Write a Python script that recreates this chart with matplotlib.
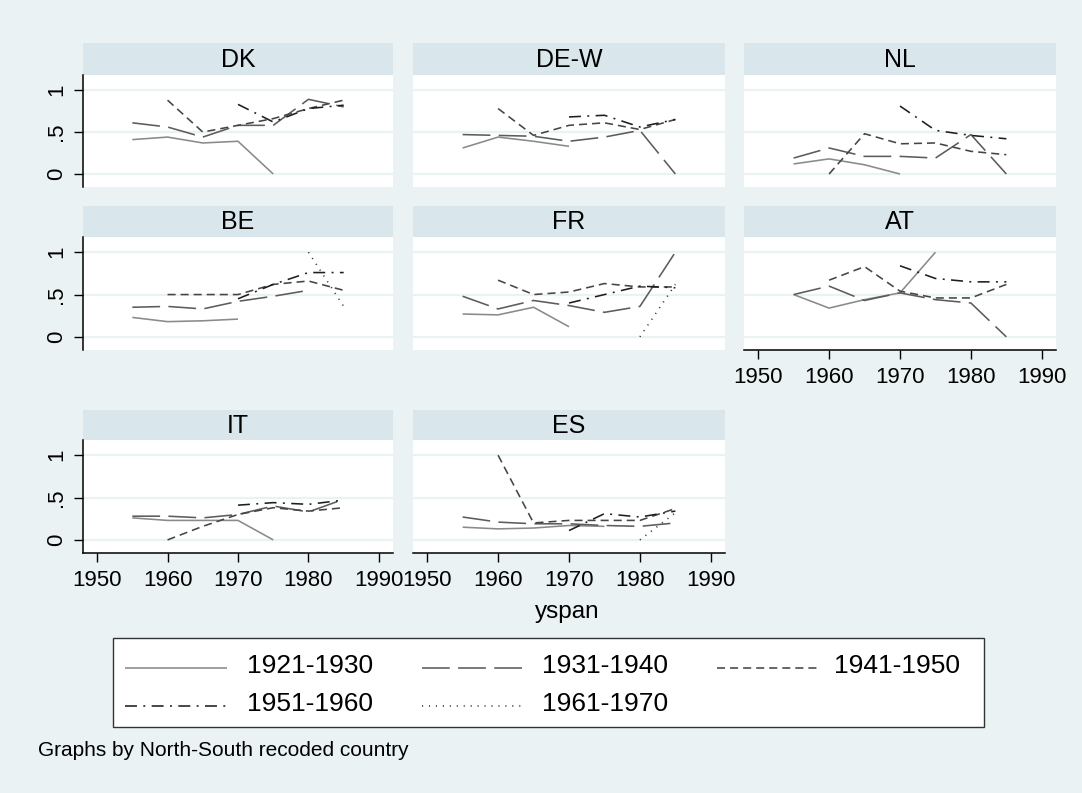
import numpy as np
import matplotlib
matplotlib.use("Agg")
import matplotlib.pyplot as plt
from matplotlib.patches import Rectangle

plt.rcParams['font.family'] = ['Liberation Sans', 'DejaVu Sans']
plt.rcParams['lines.scale_dashes'] = False

nan = np.nan
years = [1955, 1960, 1965, 1970, 1975, 1980, 1985]
countries = ['DK', 'DE-W', 'NL', 'BE', 'FR', 'AT', 'IT', 'ES']
cohorts = ['1921-1930', '1931-1940', '1941-1950', '1951-1960', '1961-1970']

c1921_1930 = {
    'DK':   [0.41, 0.44, 0.37, 0.39, 0.00, nan, nan],
    'DE-W': [0.31, 0.44, 0.39, 0.33, nan, nan, nan],
    'NL':   [0.12, 0.18, 0.11, 0.00, nan, nan, nan],
    'BE':   [0.23, 0.18, 0.19, 0.21, nan, nan, nan],
    'FR':   [0.27, 0.26, 0.35, 0.12, nan, nan, nan],
    'AT':   [0.50, 0.34, 0.44, 0.52, 1.00, nan, nan],
    'IT':   [0.26, 0.23, 0.23, 0.23, 0.00, nan, nan],
    'ES':   [0.15, 0.13, 0.14, 0.17, 0.16, nan, nan],
}
c1931_1940 = {
    'DK':   [0.61, 0.56, 0.44, 0.58, 0.58, 0.89, 0.80],
    'DE-W': [0.47, 0.46, 0.45, 0.39, 0.44, 0.52, 0.00],
    'NL':   [0.19, 0.31, 0.21, 0.21, 0.19, 0.47, 0.00],
    'BE':   [0.35, 0.36, 0.33, 0.42, 0.48, 0.55, nan],
    'FR':   [0.48, 0.33, 0.43, 0.37, 0.29, 0.36, 1.00],
    'AT':   [0.50, 0.60, 0.43, 0.52, 0.44, 0.40, 0.00],
    'IT':   [0.28, 0.28, 0.26, 0.30, 0.40, 0.33, 0.48],
    'ES':   [0.27, 0.21, 0.19, 0.19, 0.17, 0.16, 0.20],
}
c1941_1950 = {
    'DK':   [nan, 0.88, 0.50, 0.58, 0.66, 0.78, 0.88],
    'DE-W': [nan, 0.78, 0.46, 0.58, 0.61, 0.53, 0.65],
    'NL':   [nan, 0.00, 0.48, 0.36, 0.37, 0.27, 0.23],
    'BE':   [nan, 0.50, 0.50, 0.50, 0.62, 0.66, 0.55],
    'FR':   [nan, 0.67, 0.50, 0.53, 0.63, 0.59, 0.59],
    'AT':   [nan, 0.67, 0.83, 0.54, 0.46, 0.46, 0.62],
    'IT':   [nan, 0.00, 0.16, 0.30, 0.38, 0.34, 0.38],
    'ES':   [nan, 1.00, 0.20, 0.23, 0.23, 0.23, 0.37],
}
c1951_1960 = {
    'DK':   [nan, nan, nan, 0.83, 0.62, 0.78, 0.82],
    'DE-W': [nan, nan, nan, 0.68, 0.70, 0.56, 0.65],
    'NL':   [nan, nan, nan, 0.81, 0.52, 0.46, 0.42],
    'BE':   [nan, nan, nan, 0.45, 0.62, 0.76, 0.76],
    'FR':   [nan, nan, nan, 0.40, 0.50, 0.60, 0.58],
    'AT':   [nan, nan, nan, 0.84, 0.69, 0.65, 0.65],
    'IT':   [nan, nan, nan, 0.41, 0.44, 0.42, 0.47],
    'ES':   [nan, nan, nan, 0.11, 0.31, 0.27, 0.34],
}
c1961_1970 = {
    'BE':   [nan, nan, nan, nan, nan, 1.00, 0.36],
    'FR':   [nan, nan, nan, nan, nan, 0.00, 0.62],
    'ES':   [nan, nan, nan, nan, nan, 0.00, 0.32],
}
cohort_data = [c1921_1930, c1931_1940, c1941_1950, c1951_1960, c1961_1970]

xticks = [1950, 1960, 1970, 1980, 1990]
yticks = [0, 0.5, 1]
ytick_labels = ['0', '.5', '1']

styles = [
    dict(color='#8a8a8a', linestyle='-'),
    dict(color='#5c5c5c', linestyle=(0, (20, 6))),
    dict(color='#454545', linestyle=(0, (5.8, 3.6))),
    dict(color='#1e1e1e', linestyle=(0, (8.6, 4.6, 1.4, 4.6))),
    dict(color='#333333', linestyle=(0, (0.8, 4.2))),
]
LW = 1.15

W, H = 1082, 793
BG = '#EAF2F3'
STRIP = '#D9E6EB'
fig = plt.figure(figsize=(W / 100, H / 100), dpi=100, facecolor=BG)


def rect(x0, y0, x1, y1):
    return [x0 / W, 1 - y1 / H, (x1 - x0) / W, (y1 - y0) / H]


cols = [(83, 393), (413, 725), (744, 1056)]
rows = [(43, 75, 187), (206, 237, 350), (410, 440, 553)]
layout = {'DK': (0, 0), 'DE-W': (0, 1), 'NL': (0, 2), 'BE': (1, 0),
          'FR': (1, 1), 'AT': (1, 2), 'IT': (2, 0), 'ES': (2, 1)}
xaxis_panels = {'AT', 'IT', 'ES'}
TICK_FS = 16

for name in countries:
    r, c = layout[name]
    x0, x1 = cols[c]
    st, top, bot = rows[r]
    sax = fig.add_axes(rect(x0, st, x1, top))
    sax.set_facecolor(STRIP)
    sax.set_xticks([]); sax.set_yticks([])
    for s in sax.spines.values():
        s.set_visible(False)
    sax.text(0.5, 0.47, name, ha='center', va='center', fontsize=18,
             transform=sax.transAxes)

    ax = fig.add_axes(rect(x0, top, x1, bot))
    ax.set_facecolor('white')
    ax.set_xlim(1948, 1992)
    ax.set_ylim(-0.155, 1.18)
    for s in ax.spines.values():
        s.set_visible(False)
    ax.set_yticks(yticks)
    ax.set_yticklabels(ytick_labels, rotation=90, va='center')
    ax.set_xticks(xticks)
    ax.set_xticklabels([str(t) for t in xticks])
    ax.yaxis.grid(True, color=BG, linewidth=1.6)
    ax.set_axisbelow(True)
    ax.tick_params(axis='y', length=6.5, width=1.0, pad=5, labelsize=TICK_FS,
                   left=(c == 0), labelleft=(c == 0))
    ax.tick_params(axis='x', length=6.5, width=1.0, pad=6, labelsize=TICK_FS,
                   bottom=(name in xaxis_panels), labelbottom=(name in xaxis_panels))
    if c == 0:
        ax.spines['left'].set_visible(True)
        ax.spines['left'].set_linewidth(1.1)
    if name in xaxis_panels:
        ax.spines['bottom'].set_visible(True)
        ax.spines['bottom'].set_linewidth(1.1)

    for data, sty in zip(cohort_data, styles):
        if name in data:
            ax.plot(years, data[name], linewidth=LW, solid_capstyle='butt',
                    dash_capstyle='butt', **sty)

# x-axis title and legend overlay
ov = fig.add_axes([0, 0, 1, 1])
ov.set_xlim(0, W); ov.set_ylim(H, 0)
ov.axis('off')
ov.patch.set_alpha(0)
ov.text(567, 612, 'yspan', ha='center', va='center', fontsize=17.5)

ov.add_patch(Rectangle((113, 638), 984 - 113, 727 - 638, facecolor='white',
                       edgecolor='#333333', linewidth=1.0))
entry_pos = [(125, 227, 247, 668), (422, 523, 542, 668), (717, 820, 834, 668),
             (125, 227, 247, 706), (422, 523, 542, 706)]
for label, sty, (lx0, lx1, tx, ly) in zip(cohorts, styles, entry_pos):
    ov.plot([lx0, lx1], [ly, ly], linewidth=LW, solid_capstyle='butt',
            dash_capstyle='butt', **sty)
    ov.text(tx, ly - 2, label, ha='left', va='center', fontsize=19)

ov.text(38, 751, 'Graphs by North-South recoded country', ha='left',
        va='center', fontsize=15)

fig.savefig('out.png', dpi=100, facecolor=BG)
